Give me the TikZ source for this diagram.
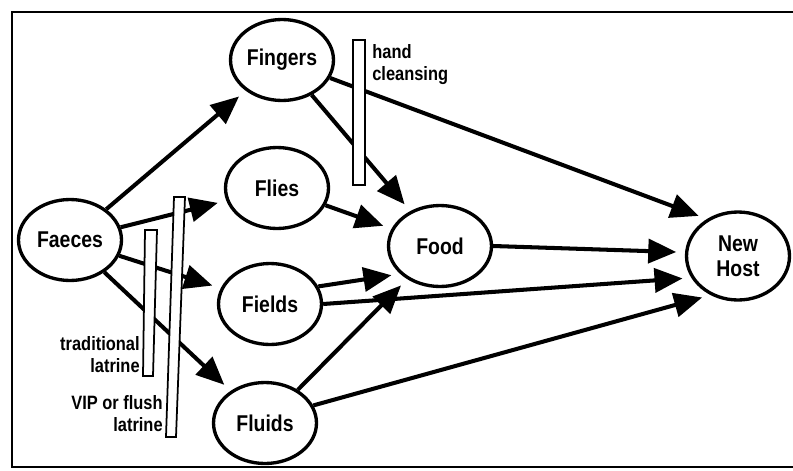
\documentclass[tikz,border=0pt]{standalone}
\usepackage{fontspec}
\setmainfont{Liberation Sans}[FakeStretch=0.85]
\usetikzlibrary{shapes.geometric, arrows.meta, positioning}

\begin{document}
\begin{tikzpicture}[x=0.02cm, y=-0.02cm,
	route/.style={ellipse, draw, line width=1.9pt, minimum width=2.06cm, minimum height=1.62cm,
		inner sep=0pt, align=center, font=\fontsize{13}{14}\selectfont\bfseries},
	flow/.style={line width=2.3pt, -{Triangle[length=0.56cm, width=0.48cm]}, shorten >=5pt},
	barrier/.style={draw, fill=white, line width=1pt},
	note/.style={inner sep=0pt, font=\fontsize{11}{12.5}\selectfont\bfseries}]
	
	\useasboundingbox (0,0) rectangle (793,470);
	
	% Frame (open on the right)
	\draw[line width=1.6pt] (793,12) -- (12,12) -- (12,467) -- (793,467);
	
	% The five F's and where they lead
	\node[route] (faeces)  at (70,240)  {Faeces};
	\node[route] (fingers) at (282,60)  {Fingers};
	\node[route] (flies)   at (277,188) {Flies};
	\node[route] (fields)  at (270,304) {Fields};
	\node[route] (fluids)  at (265,423) {Fluids};
	\node[route] (food)    at (440,246) {Food};
	\node[route, minimum height=1.76cm] (host) at (738,256) {New\\Host};
	
	% Transmission routes
	\draw[flow] (faeces) -- (fingers);
	\draw[flow] (faeces) -- (flies);
	\draw[flow] (faeces) -- (fields);
	\draw[flow] (faeces) -- (fluids);
	\draw[flow] (fingers) -- (food);
	\draw[flow] (fingers) -- (host.130);
	\draw[flow] (flies) -- (food);
	\draw[flow] (fields.20) -- (food.215);
	\draw[flow] (fields.east) -- (host.205);
	\draw[flow] (fluids) -- (food);
	\draw[flow] (fluids.20) -- (host.235);
	\draw[flow] (food.east) -- (host.176);
	
	% Barriers
	\draw[barrier] (353,40) rectangle (365,185);
	\draw[barrier] (145,230) -- (157,230) -- (153,376) -- (143,376) -- cycle;
	\draw[barrier] (174,197) -- (185,197) -- (176,437) -- (166,437) -- cycle;
	
	\node[note, anchor=north west, align=left] (handlbl) at (372,44) {hand\\cleansing};
	\node[note, anchor=north east, align=right] (traditionallbl) at (140,336) {traditional\\latrine};
	\node[note, anchor=north east, align=right] (viplbl) at (163,395) {VIP or flush\\latrine};
	
\end{tikzpicture}
\end{document}
